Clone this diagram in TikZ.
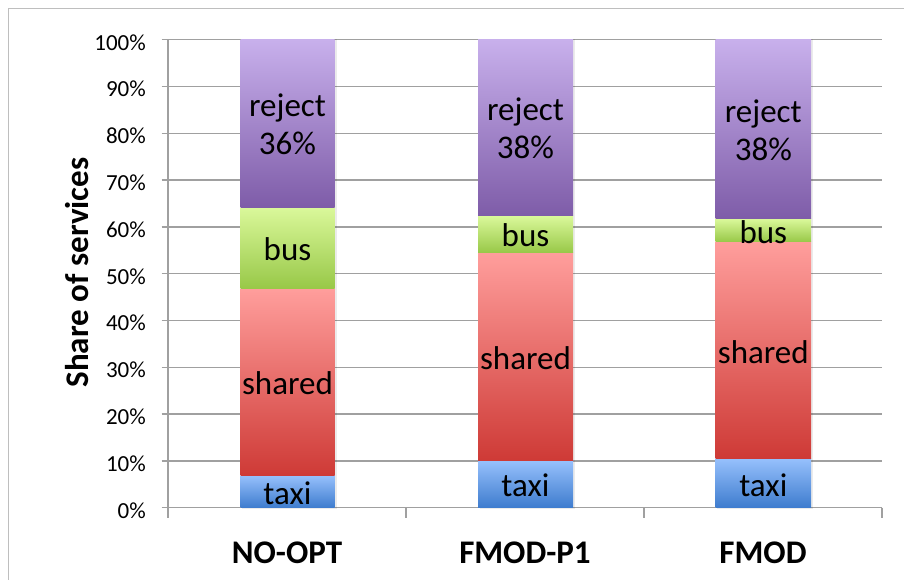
\documentclass[tikz,border=0pt]{standalone}
\usepackage{fontspec}
\setmainfont{Carlito}
\definecolor{rejT}{RGB}{200,176,236}
\definecolor{rejB}{RGB}{126,92,168}
\definecolor{busT}{RGB}{218,248,154}
\definecolor{busB}{RGB}{152,200,72}
\definecolor{shaT}{RGB}{255,158,156}
\definecolor{shaB}{RGB}{206,58,54}
\definecolor{taxT}{RGB}{150,192,252}
\definecolor{taxB}{RGB}{62,124,206}
\definecolor{gridc}{RGB}{160,160,160}
\definecolor{framec}{RGB}{190,190,190}
\tikzset{
  gridline/.style={draw=gridc,line width=1.3pt},
  ticklbl/.style={anchor=base east,inner sep=0pt,font=\fontsize{23}{26}\selectfont},
  barlbl/.style={anchor=base,inner sep=0pt,font=\fontsize{33}{38}\selectfont},
  catlbl/.style={anchor=base,inner sep=0pt,font=\fontsize{33}{38}\selectfont\bfseries},
  rej/.style={top color=rejT,bottom color=rejB},
  busc/.style={top color=busT,bottom color=busB},
  sha/.style={top color=shaT,bottom color=shaB},
  tax/.style={top color=taxT,bottom color=taxB},
  shadowc/.style={fill=black,opacity=0.08}
}
\begin{document}
\begin{tikzpicture}[x=1pt,y=1pt]
\useasboundingbox (0,0) rectangle (904,580);
\fill[white] (0,0) rectangle (904,580);
% outer frame
\draw[framec,line width=1.5pt] (8.5,-5) -- (8.5,571.5) -- (910,571.5);
% gridlines and y ticks
\foreach \p in {0,10,...,100}{
  \pgfmathsetmacro{\yy}{72.3+4.68*\p}
  \draw[gridline] (161.5,\yy) -- (882,\yy);
  \node[ticklbl] (t\p) at (146,\yy-10.5) {\p\%};
}
% axes
\draw[gridline] (168,540.3) -- (168,62);
\foreach \xx in {406,644,882}{
  \draw[gridline] (\xx,72.3) -- (\xx,62);
}
% shadows
\foreach \a/\b in {240.5/334.5,478/573,715.5/811}{
  \fill[shadowc] (\a+1.5,71) rectangle (\b+2,540.5);
}
% bar 1
\shade[tax] (240.5,72.3) rectangle (334.5,104.3);
\shade[sha] (240.5,104.3) rectangle (334.5,291.7);
\shade[busc] (240.5,291.7) rectangle (334.5,372.3);
\shade[rej] (240.5,372.3) rectangle (334.5,540.5);
% bar 2
\shade[tax] (478,72.3) rectangle (573,119.3);
\shade[sha] (478,119.3) rectangle (573,327.3);
\shade[busc] (478,327.3) rectangle (573,364);
\shade[rej] (478,364) rectangle (573,540.5);
% bar 3
\shade[tax] (715.5,72.3) rectangle (811,121.3);
\shade[sha] (715.5,121.3) rectangle (811,338.3);
\shade[busc] (715.5,338.3) rectangle (811,361);
\shade[rej] (715.5,361) rectangle (811,540.5);
% bar labels
\node[barlbl] (r1a) at (287.5,463.4) {reject};
\node[barlbl] (r1b) at (287.5,425.4) {36\%};
\node[barlbl] (b1) at (287.5,319) {bus};
\node[barlbl] (s1) at (287.5,185) {shared};
\node[barlbl] (x1) at (287.5,75) {taxi};
\node[barlbl] (r2a) at (525.5,459.3) {reject};
\node[barlbl] (r2b) at (525.5,421.3) {38\%};
\node[barlbl] (b2) at (525.5,333.3) {bus};
\node[barlbl] (s2) at (525.5,210.3) {shared};
\node[barlbl] (x2) at (525.5,83) {taxi};
\node[barlbl] (r3a) at (763.3,457.8) {reject};
\node[barlbl] (r3b) at (763.3,419.8) {38\%};
\node[barlbl] (b3) at (763.3,336.7) {bus};
\node[barlbl] (s3) at (763.3,216.8) {shared};
\node[barlbl] (x3) at (763.3,83.8) {taxi};
% category labels
\node[catlbl] (c1) at (287,16) {NO-OPT};
\node[catlbl] (c2) at (525,16) {FMOD-P1};
\node[catlbl] (c3) at (763,16) {FMOD};
% axis title
\node[catlbl,rotate=90] (ytitle) at (88,307.5) {Share of services};
\end{tikzpicture}
\end{document}
